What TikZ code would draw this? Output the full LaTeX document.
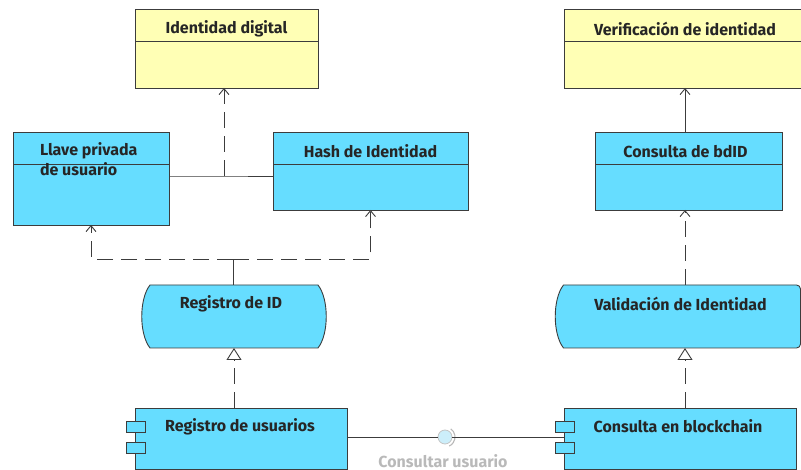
\documentclass[tikz,border=0pt]{standalone}
\usepackage{fontspec}
\setmainfont{Fira Sans}
\usetikzlibrary{arrows.meta,calc}

\definecolor{cls}{RGB}{102,221,255}
\definecolor{obj}{RGB}{255,255,181}
\definecolor{edge}{RGB}{60,60,60}
\definecolor{ifill}{RGB}{204,238,250}
\definecolor{faint}{RGB}{185,185,185}

\tikzset{
  every node/.style={inner sep=0pt, outer sep=0pt},
  lbl/.style={font=\fontsize{16}{18}\selectfont\bfseries, text=black!85},
  frame/.style={draw=edge, line width=0.9pt},
  link/.style={draw=edge, line width=0.9pt},
  dashlink/.style={link, dash pattern=on 16pt off 8pt},
  opentip/.style={-{Straight Barb[length=6pt,width=10pt,line width=0.9pt]}},
  realtip/.style={-{Triangle[open,length=12pt,width=15pt,fill=white,line width=0.9pt]}},
}

% box with a title compartment: name, cx, cy, w, h, fill
\newcommand{\classbox}[6]{%
  \node[frame, fill=#6, minimum width=#4pt, minimum height=#5pt] (#1) at (#2,#3) {};
  \draw[frame] ($(#1.north west)+(0,32.5)$) -- ($(#1.north east)+(0,32.5)$);
}

\begin{document}
\begin{tikzpicture}[x=1pt,y=-1pt]
\useasboundingbox (0,0) rectangle (801,470);

% ---- passive structure boxes ----
\classbox{idd}{226.5}{48.5}{183}{79}{obj}
\classbox{ver}{685}{48.5}{242}{79}{obj}
\classbox{llave}{91}{178.5}{156}{93}{cls}
\classbox{hash}{370.5}{171}{195}{78}{cls}
\classbox{cbd}{688.5}{171}{187}{78}{cls}

\node[lbl] at ($(idd.north)+(0,19.5)$) {Identidad digital};
\node[lbl] at ($(ver.north)+(0,19.5)$) {Verificación de identidad};
\node[lbl] at ($(hash.north)+(0,19.5)$) {Hash de Identidad};
\node[lbl] at ($(cbd.north)+(-3,19.5)$) {Consulta de bdID};
\node[lbl, anchor=north west, align=left, font=\fontsize{16}{20}\selectfont\bfseries]
  at ($(llave.north west)+(27,11)$) {Llave privada\\de usuario};

% ---- services (curved sides) ----
\node[minimum width=186pt, minimum height=63pt] (regid) at (234,316.5) {};
\draw[frame, fill=cls]
  ($(regid.north west)+(9,0)$) -- ($(regid.north east)+(-9,0)$)
  .. controls ($(regid.north east)+(2,14)$) and ($(regid.south east)+(2,-14)$) .. ($(regid.south east)+(-9,0)$)
  -- ($(regid.south west)+(9,0)$)
  .. controls ($(regid.south west)+(-2,-14)$) and ($(regid.north west)+(-2,14)$) .. cycle;
\node[lbl] at ($(regid.north)+(-3,19)$) {Registro de ID};

\node[minimum width=246pt, minimum height=63pt] (val) at (677.5,316.5) {};
\draw[frame, fill=cls]
  ($(val.north west)+(9,0)$) [rounded corners=4pt] -- (val.north east) -- (val.south east)
  [sharp corners] -- ($(val.south west)+(9,0)$)
  .. controls ($(val.south west)+(-2,-14)$) and ($(val.north west)+(-2,14)$) .. cycle;
\node[lbl] at ($(val.north)+(3,19)$) {Validación de Identidad};

% ---- application components ----
\node[frame, fill=cls, minimum width=212pt, minimum height=61pt] (regu) at (241,438.5) {};
\node[frame, fill=cls, minimum width=232pt, minimum height=61pt] (cb) at (680,438.5) {};
\foreach \c in {regu,cb}{
  \draw[frame, fill=cls] ($(\c.north west)+(-9,13)$) rectangle ($(\c.north west)+(10,24)$);
  \draw[frame, fill=cls] ($(\c.north west)+(-9,34)$) rectangle ($(\c.north west)+(10,45)$);
}
\node[lbl] at ($(regu.north)+(-1,18.5)$) {Registro de usuarios};
\node[lbl] at ($(cb.north)+(-2,18.5)$) {Consulta en blockchain};

% ---- interface ----
\node[circle, draw=white!70!edge, fill=ifill, line width=0.8pt, minimum size=14pt] (ifc) at (445,437) {};
\draw[faint, line width=1.1pt] ($(ifc)+(-55:10)$) arc (-55:65:10);
\node[text=faint, font=\fontsize{16}{18}\selectfont\bfseries] (ifl) at (443,461) {Consultar usuario};
\draw[link] (ifc -| regu.east) -- (ifc.west);
\draw[link] (ifc.east) -- (ifc -| cb.west);

% ---- relations, left column ----
\draw[dashlink, realtip] (regu.north -| regid) -- (regid.south);
\coordinate (j1) at ($(regid.north)+(-1,-26)$);
\draw[link] (regid.north -| j1) -- (j1);
\draw[dashlink, opentip] (j1) -- (j1 -| llave) -- (llave.south);
\draw[dashlink, opentip] (j1) -- (j1 -| hash) -- (hash.south);

\coordinate (j2) at (224,176);
\draw[link] (j2 -| llave.east) -- (j2) -- (j2 -| hash.west);
\draw[dashlink, opentip] (j2) -- (j2 |- idd.south);

% ---- relations, right column ----
\draw[link, opentip] (cbd.north -| ver) -- (ver.south);
\draw[dashlink, opentip] (val.north -| ver) -- (cbd.south -| ver);
\draw[dashlink, realtip] (cb.north -| ver) -- (val.south -| ver);
\end{tikzpicture}
\end{document}
